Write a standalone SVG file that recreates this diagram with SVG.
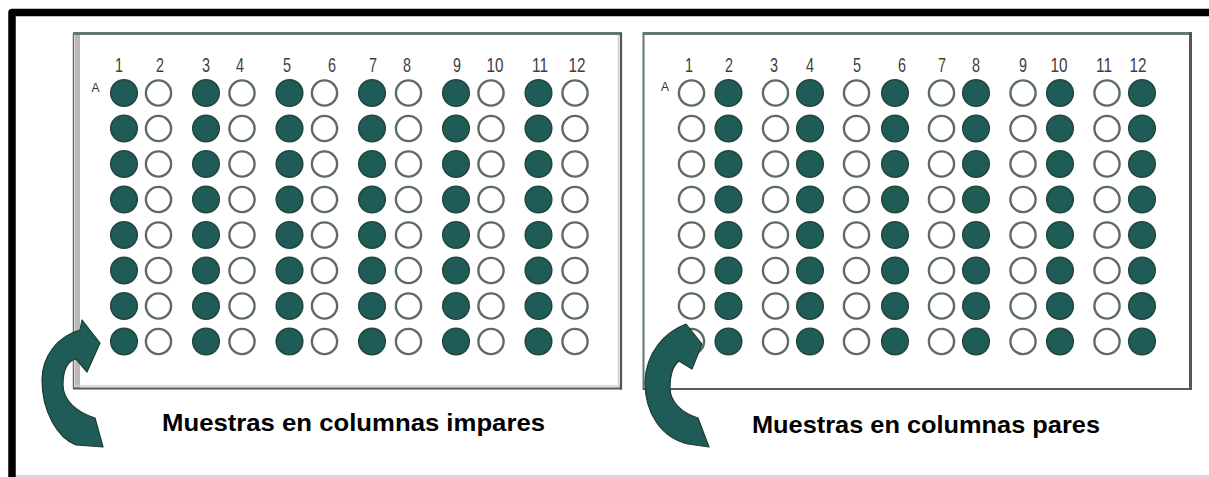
<svg xmlns="http://www.w3.org/2000/svg" xmlns:xlink="http://www.w3.org/1999/xlink" width="1209" height="477" viewBox="0 0 1209 477">
<style>
.f{fill:#1f5c57;stroke:#24473d;stroke-width:1.5}
.e{fill:#ffffff;stroke:#5d6b64;stroke-width:2.4}
.num{font-family:"Liberation Sans",Arial,sans-serif;font-size:21px;fill:#404040;text-anchor:middle}
.row{font-family:"Liberation Sans",Arial,sans-serif;font-size:12px;fill:#333;text-anchor:middle}
.lbl{font-family:"Liberation Sans",Arial,sans-serif;font-weight:bold;font-size:24px;fill:#000}
.arrow{fill:#1f5c57;stroke:#1e3a32;stroke-width:1.2;stroke-linejoin:round}
</style>
<defs>
<g id="colF">
<circle class="f" cx="0" cy="93" r="13.3"/><circle class="f" cx="0" cy="128.5" r="13.3"/><circle class="f" cx="0" cy="164" r="13.3"/><circle class="f" cx="0" cy="199.5" r="13.3"/><circle class="f" cx="0" cy="235" r="13.3"/><circle class="f" cx="0" cy="270.5" r="13.3"/><circle class="f" cx="0" cy="306" r="13.3"/><circle class="f" cx="0" cy="341.5" r="13.3"/>
</g>
<g id="colE">
<circle class="e" cx="0" cy="93" r="12.6"/><circle class="e" cx="0" cy="128.5" r="12.6"/><circle class="e" cx="0" cy="164" r="12.6"/><circle class="e" cx="0" cy="199.5" r="12.6"/><circle class="e" cx="0" cy="235" r="12.6"/><circle class="e" cx="0" cy="270.5" r="12.6"/><circle class="e" cx="0" cy="306" r="12.6"/><circle class="e" cx="0" cy="341.5" r="12.6"/>
</g>
</defs>
<rect width="1209" height="477" fill="#ffffff"/>
<g id="frame">
<line x1="15" y1="476" x2="1209" y2="476" stroke="#d9d9d9" stroke-width="2"/>
<path d="M12 477 V12.5 H1209" fill="none" stroke="#000" stroke-width="7.5" stroke-linejoin="round"/>
</g>
<g id="plate1">
<rect x="74" y="33.5" width="547" height="355" fill="#fff"/>
<line x1="77.5" y1="35" x2="77.5" y2="388" stroke="#bdb8b8" stroke-width="5"/>
<line x1="73.5" y1="33" x2="73.5" y2="389" stroke="#6a6a6a" stroke-width="1.5"/>
<line x1="73" y1="33.5" x2="622" y2="33.5" stroke="#5f7a68" stroke-width="3"/>
<line x1="75" y1="386" x2="620" y2="386" stroke="#d0d0d0" stroke-width="1.5"/>
<line x1="73" y1="388.5" x2="622" y2="388.5" stroke="#5a5a5a" stroke-width="2"/>
<line x1="618.5" y1="35" x2="618.5" y2="387" stroke="#d0d0d0" stroke-width="1.5"/>
<line x1="621" y1="33" x2="621" y2="389.5" stroke="#555" stroke-width="2.2"/>
<text class="num" x="119" y="72" textLength="8" lengthAdjust="spacingAndGlyphs">1</text><text class="num" x="160" y="72" textLength="8" lengthAdjust="spacingAndGlyphs">2</text><text class="num" x="206" y="72" textLength="8" lengthAdjust="spacingAndGlyphs">3</text><text class="num" x="240" y="72" textLength="8" lengthAdjust="spacingAndGlyphs">4</text><text class="num" x="287" y="72" textLength="8" lengthAdjust="spacingAndGlyphs">5</text><text class="num" x="332" y="72" textLength="8" lengthAdjust="spacingAndGlyphs">6</text><text class="num" x="373" y="72" textLength="8" lengthAdjust="spacingAndGlyphs">7</text><text class="num" x="407" y="72" textLength="8" lengthAdjust="spacingAndGlyphs">8</text><text class="num" x="457" y="72" textLength="8" lengthAdjust="spacingAndGlyphs">9</text><text class="num" x="495" y="72" textLength="17" lengthAdjust="spacingAndGlyphs">10</text><text class="num" x="540" y="72" textLength="16" lengthAdjust="spacingAndGlyphs">11</text><text class="num" x="577" y="72" textLength="17" lengthAdjust="spacingAndGlyphs">12</text>
<text class="row" x="95.5" y="92">A</text>
<use xlink:href="#colF" x="124"/><use xlink:href="#colE" x="158.5"/>
<use xlink:href="#colF" x="206"/><use xlink:href="#colE" x="242"/>
<use xlink:href="#colF" x="289.5"/><use xlink:href="#colE" x="324.5"/>
<use xlink:href="#colF" x="372"/><use xlink:href="#colE" x="408.5"/>
<use xlink:href="#colF" x="456"/><use xlink:href="#colE" x="491"/>
<use xlink:href="#colF" x="538.5"/><use xlink:href="#colE" x="575"/>
</g>
<g id="plate2">
<rect x="644" y="33.5" width="546" height="355" fill="#fff"/>
<line x1="643" y1="33.5" x2="1191" y2="33.5" stroke="#5f7a68" stroke-width="3"/>
<line x1="643.5" y1="32" x2="643.5" y2="390" stroke="#5f7a68" stroke-width="2"/>
<line x1="643" y1="389" x2="1192" y2="389" stroke="#5a5a5a" stroke-width="2"/>
<line x1="1190.5" y1="32" x2="1190.5" y2="390" stroke="#555" stroke-width="3"/>
<text class="num" x="689" y="72" textLength="8" lengthAdjust="spacingAndGlyphs">1</text><text class="num" x="729" y="72" textLength="8" lengthAdjust="spacingAndGlyphs">2</text><text class="num" x="774" y="72" textLength="8" lengthAdjust="spacingAndGlyphs">3</text><text class="num" x="810" y="72" textLength="8" lengthAdjust="spacingAndGlyphs">4</text><text class="num" x="857" y="72" textLength="8" lengthAdjust="spacingAndGlyphs">5</text><text class="num" x="902" y="72" textLength="8" lengthAdjust="spacingAndGlyphs">6</text><text class="num" x="942" y="72" textLength="8" lengthAdjust="spacingAndGlyphs">7</text><text class="num" x="976" y="72" textLength="8" lengthAdjust="spacingAndGlyphs">8</text><text class="num" x="1023" y="72" textLength="8" lengthAdjust="spacingAndGlyphs">9</text><text class="num" x="1059" y="72" textLength="17" lengthAdjust="spacingAndGlyphs">10</text><text class="num" x="1104" y="72" textLength="16" lengthAdjust="spacingAndGlyphs">11</text><text class="num" x="1138" y="72" textLength="17" lengthAdjust="spacingAndGlyphs">12</text>
<text class="row" x="665" y="91">A</text>
<use xlink:href="#colE" x="691.5"/><use xlink:href="#colF" x="728.5"/>
<use xlink:href="#colE" x="775.5"/><use xlink:href="#colF" x="810"/>
<use xlink:href="#colE" x="856.5"/><use xlink:href="#colF" x="895"/>
<use xlink:href="#colE" x="941.5"/><use xlink:href="#colF" x="976"/>
<use xlink:href="#colE" x="1023"/><use xlink:href="#colF" x="1060"/>
<use xlink:href="#colE" x="1107"/><use xlink:href="#colF" x="1142"/>
</g>
<g id="connectors">
<path id="arrow1" class="arrow" d="M100 343 L82 320 L80 330 C58 336 42 356 42 380 C42 412 58 438 76 445 L103 447 L95 418 C76 412 63 400 63 385 C63 370 68 361 76 359 L87 372 Z"/>
<path id="arrow2" class="arrow" d="M702 344 L686 324 C665 332 646 352 645 382 C645 414 662 438 688 444 L709 447 L698 418 C682 413 670 402 670 388 C670 374 674 365 679 361 L692 369 Z"/>
</g>
<g id="label1"><text class="lbl" x="162" y="431" textLength="383" lengthAdjust="spacingAndGlyphs">Muestras en columnas impares</text></g>
<g id="label2"><text class="lbl" x="752" y="433" textLength="348" lengthAdjust="spacingAndGlyphs">Muestras en columnas pares</text></g>
</svg>
